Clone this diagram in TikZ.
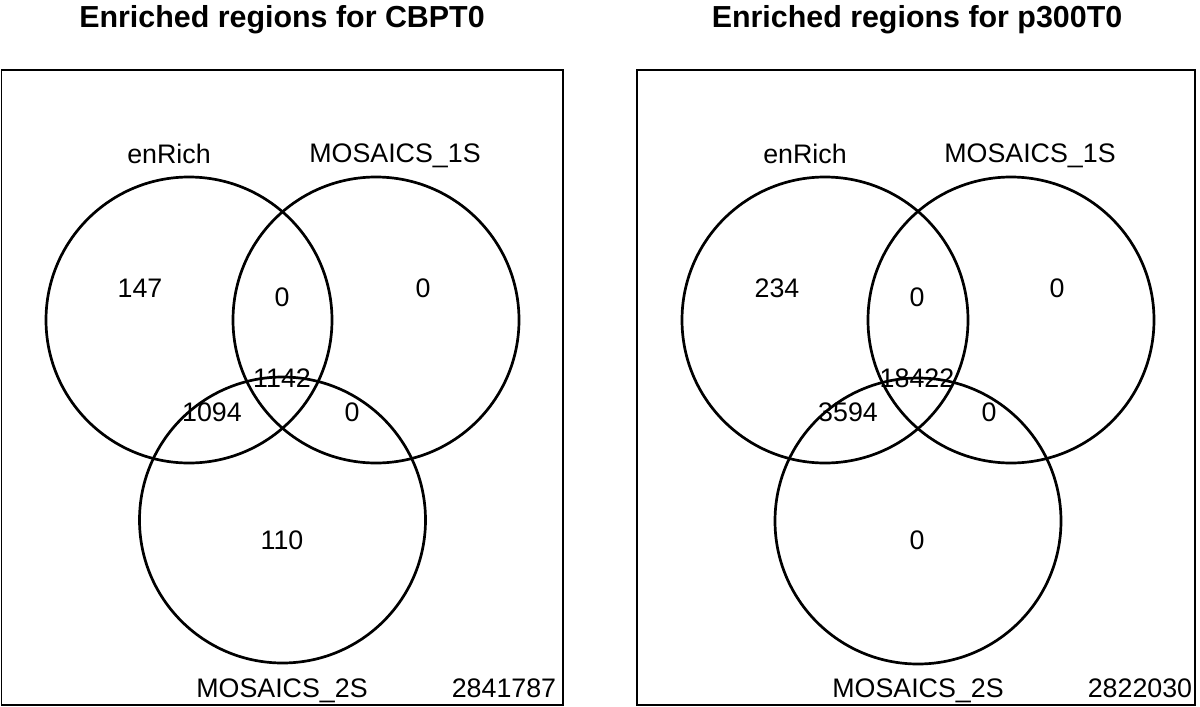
\documentclass[tikz,border=0pt]{standalone}
\usepackage{fontspec}
\setmainfont{Liberation Sans}
\begin{document}
\begin{tikzpicture}[x=1pt,y=-1pt,
  ring/.style={draw=black, line width=2.7pt},
  frame/.style={draw=black, line width=1.4pt},
  lbl/.style={inner sep=0pt, font=\fontsize{26.8}{30}\selectfont},
  ttl/.style={inner sep=0pt, font=\bfseries\fontsize{30.4}{34}\selectfont}]
\useasboundingbox (0,0) rectangle (1200,707);
% ---------- left panel ----------
\node[ttl, anchor=base] (t1) at (282,27) {Enriched regions for CBPT0};
\draw[frame] (1.5,70) rectangle (563,705);
\draw[ring] (189,320) circle (143pt);
\draw[ring] (376,320) circle (143pt);
\draw[ring] (282.5,520) circle (143pt);
\node[lbl, anchor=base] (a1) at (169,163) {enRich};
\node[lbl, anchor=base] (b1) at (395,162) {MOSAICS\_1S};
\node[lbl, anchor=base] (c1) at (282,697) {MOSAICS\_2S};
\node[lbl, anchor=base] (u1) at (504,697) {2841787};
\node[lbl] (n1a) at (140,288) {147};
\node[lbl] (n1ab) at (282,297) {0};
\node[lbl] (n1b) at (423,288) {0};
\node[lbl] (n1abc) at (282,378) {1142};
\node[lbl] (n1ac) at (212,412) {1094};
\node[lbl] (n1bc) at (352,412) {0};
\node[lbl] (n1c) at (282,540) {110};
% ---------- right panel ----------
\node[ttl, anchor=base] (t2) at (917,27) {Enriched regions for p300T0};
\draw[frame] (637,70) rectangle (1195,705);
\draw[ring] (825,320) circle (143pt);
\draw[ring] (1011,320) circle (143pt);
\draw[ring] (918,521) circle (143pt);
\node[lbl, anchor=base] (a2) at (805,163) {enRich};
\node[lbl, anchor=base] (b2) at (1030,162) {MOSAICS\_1S};
\node[lbl, anchor=base] (c2) at (918,697) {MOSAICS\_2S};
\node[lbl, anchor=base] (u2) at (1140,697) {2822030};
\node[lbl] (n2a) at (777,288) {234};
\node[lbl] (n2ab) at (917,297) {0};
\node[lbl] (n2b) at (1057,288) {0};
\node[lbl] (n2abc) at (917,378) {18422};
\node[lbl] (n2ac) at (848,412) {3594};
\node[lbl] (n2bc) at (989,412) {0};
\node[lbl] (n2c) at (917,540) {0};
\end{tikzpicture}
\end{document}
